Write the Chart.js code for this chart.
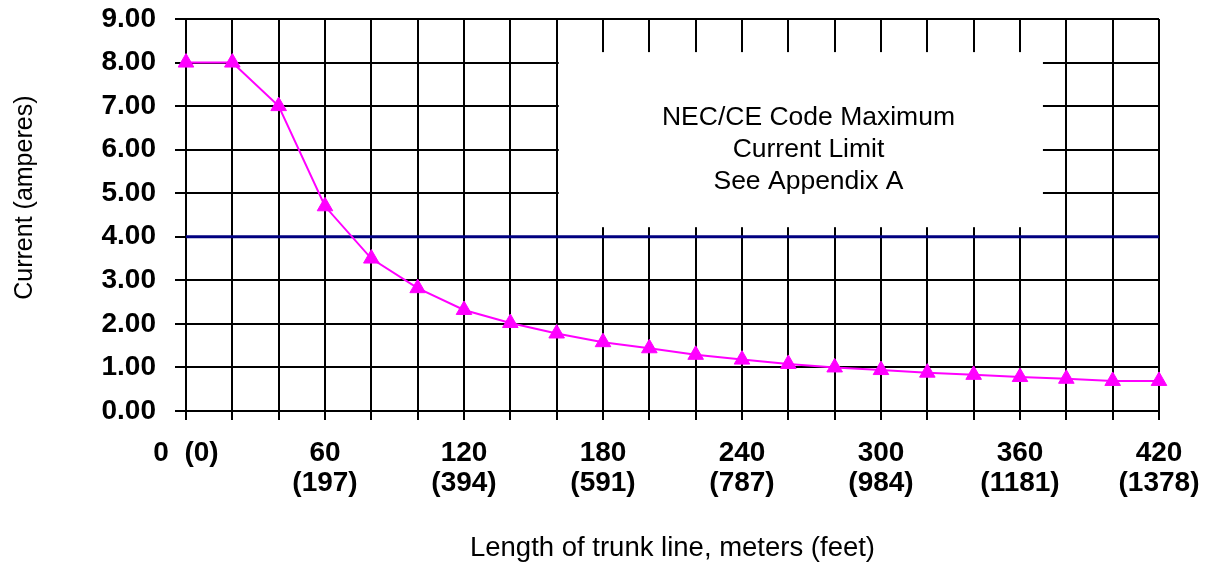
<!DOCTYPE html>
<html><head><meta charset="utf-8">
<script src="https://cdn.jsdelivr.net/npm/chart.js@4/dist/chart.umd.min.js"></script>
<style>html,body{margin:0;padding:0;background:#fff;}#wrap{width:1207px;height:567px;}</style>
</head><body><div id="wrap"><canvas id="c" width="1207" height="567"></canvas></div>
<script>
// ---- data ----
const meters = [0,20,40,60,80,100,120,140,160,180,200,220,240,260,280,300,320,340,360,380,400,420];
const current = [8.0,8.0,7.0,4.7,3.5,2.82,2.32,2.02,1.78,1.58,1.44,1.29,1.18,1.08,1.0,0.94,0.88,0.83,0.78,0.74,0.69,0.69];
const limitX = [0, 420];
const limitY = [4.0, 4.0];
const meterTickLabels = ['0','60','120','180','240','300','360','420'];
const feetTickLabels = ['(0)','(197)','(394)','(591)','(787)','(984)','(1181)','(1378)'];
const noteLines = ['NEC/CE Code Maximum','Current Limit','See Appendix A'];

const SANS = '"Liberation Sans", Arial, Helvetica, sans-serif';
Chart.defaults.color = '#000';

const notePlugin = {
  id: 'note',
  beforeDatasetsDraw(chart) {
    const {ctx, scales: {x, y}} = chart;
    const l = x.getPixelForValue(160.9), r = x.getPixelForValue(369.9);
    const t = y.getPixelForValue(8.24), b = y.getPixelForValue(4.22);
    ctx.save();
    ctx.fillStyle = '#fff';
    ctx.fillRect(l, t, r - l, b - t);
    ctx.fillStyle = '#000';
    ctx.font = '26.5px ' + SANS;
    ctx.textAlign = 'center';
    ctx.textBaseline = 'middle';
    const cx = x.getPixelForValue(268.7), cy = y.getPixelForValue(6.0);
    noteLines.forEach((s, i) => ctx.fillText(s, cx, cy + (i - 1) * 32));
    ctx.restore();
  }
};

new Chart(document.getElementById('c'), {
  type: 'line',
  data: {
    datasets: [
      {
        data: meters.map((m, i) => ({x: m, y: current[i]})),
        borderColor: '#FF00FF',
        backgroundColor: '#FF00FF',
        borderWidth: 2,
        pointStyle: 'triangle',
        pointRadius: 9,
        pointBorderWidth: 1,
        tension: 0,
        clip: false
      },
      {
        data: limitX.map((m, i) => ({x: m, y: limitY[i]})),
        borderColor: '#000080',
        borderWidth: 3,
        pointRadius: 0,
        tension: 0
      }
    ]
  },
  options: {
    responsive: false,
    animation: false,
    devicePixelRatio: 1,
    layout: {padding: {top: 19, right: 48, left: 0, bottom: 0}},
    plugins: {legend: {display: false}, tooltip: {enabled: false}},
    scales: {
      x: {
        type: 'linear', min: 0, max: 420,
        afterFit(s) { s.height = 156; s.paddingLeft = 0; s.paddingRight = 0; },
        grid: {color: '#000', lineWidth: 2, tickLength: 9},
        border: {color: '#000', width: 2},
        ticks: {
          stepSize: 20, autoSkip: false, minRotation: 0, maxRotation: 0, padding: 18,
          font: {family: SANS, size: 28, weight: 'bold', lineHeight: 1.07},
          callback(v) {
            if (v % 60 !== 0) return '';
            const i = v / 60;
            if (i === 0) return meterTickLabels[0] + '\u00a0\u00a0' + feetTickLabels[0];
            return [meterTickLabels[i], feetTickLabels[i]];
          }
        },
        title: {
          display: true, text: 'Length of trunk line, meters (feet)',
          font: {family: SANS, size: 27.5}, padding: {top: 0, bottom: 2.5}
        }
      },
      y: {
        min: 0, max: 9,
        afterFit(s) { s.width = 186; s.paddingTop = 0; s.paddingBottom = 0; },
        grid: {color: '#000', lineWidth: 2, tickLength: 11},
        border: {color: '#000', width: 2},
        ticks: {
          stepSize: 1, padding: 19,
          font: {family: SANS, size: 28, weight: 'bold'},
          callback(v) { return Number(v).toFixed(2); }
        },
        title: {
          display: true, text: '\u00a0\u00a0\u00a0\u00a0\u00a0Current (amperes)',
          font: {family: SANS, size: 25}, padding: {top: 10, bottom: 0}
        }
      }
    }
  },
  plugins: [notePlugin]
});
</script></body></html>
